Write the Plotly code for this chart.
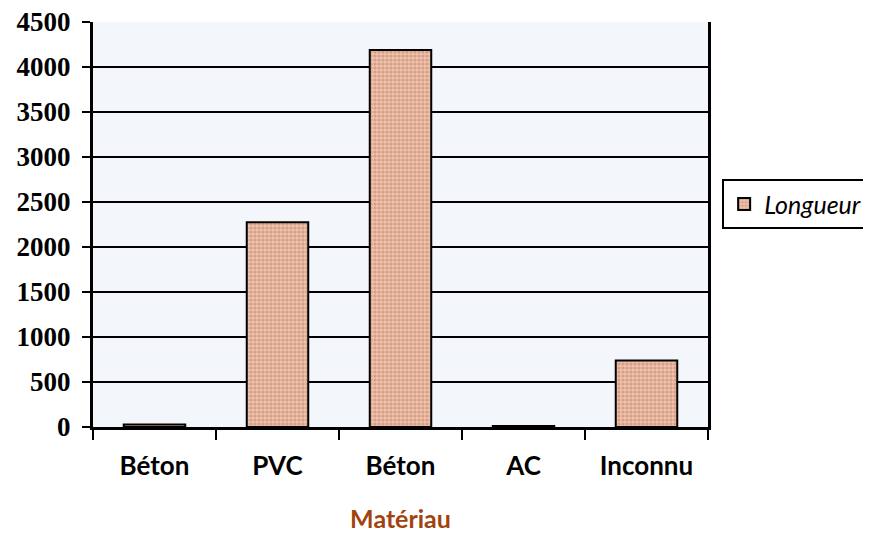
import plotly.graph_objects as go

# material categories (the first and third labels are both "Béton" in the source)
materials = ["Béton", "PVC", "Béton", "AC", "Inconnu"]
longueur = [28, 2275, 4190, 12, 740]
positions = list(range(len(materials)))

fig = go.Figure(go.Bar(
    x=positions, y=longueur, name="Longueur", width=0.5,
    marker=dict(color="#efc2ac",
                line=dict(color="black", width=2),
                pattern=dict(shape=".", fgcolor="#b97a62", size=4, solidity=0.5)),
    showlegend=True,
))

# the page has an 8px body margin, so the figure is sized/offset to compensate
fig.update_layout(
    width=863, height=525,
    margin=dict(l=85, r=163, t=14, b=106, autoexpand=False),
    paper_bgcolor="white",
    plot_bgcolor="#f3f7fc",
    legend=dict(x=1.023, y=0.55, xanchor="left", yanchor="middle",
                bordercolor="black", borderwidth=2, bgcolor="white",
                font=dict(family="Lato, Noto Sans", size=25, style="italic", color="black"),
                itemsizing="constant", itemwidth=30),
    font=dict(family="Lato, Noto Sans", color="black"),
)

fig.update_xaxes(
    range=[-0.5, 4.5],
    tickvals=positions, ticktext=materials, ticks="",
    tickfont=dict(family="Lato, Noto Sans", size=26, weight="bold"),
    ticklabelstandoff=14,
    showline=True, linecolor="black", linewidth=3, mirror=False,
    showgrid=False, zeroline=False,
    minor=dict(tickvals=[p - 0.5 for p in positions] + [4.5], ticks="outside",
               ticklen=10, tickwidth=2, tickcolor="black", showgrid=False),
    title=dict(text="Matériau", standoff=37,
               font=dict(family="Lato, Noto Sans", size=25, weight="bold", color="#a2420e")),
)
fig.update_yaxes(
    range=[0, 4500], dtick=500,
    tickfont=dict(family="Liberation Serif", size=27, weight="bold"),
    ticklabeloverflow="allow", ticklabelstandoff=6,
    ticks="outside", ticklen=8, tickwidth=2, tickcolor="black",
    showline=True, linecolor="black", linewidth=3, mirror=True,
    showgrid=True, gridcolor="black", gridwidth=2, zeroline=False,
)

fig.write_html("out.html")
